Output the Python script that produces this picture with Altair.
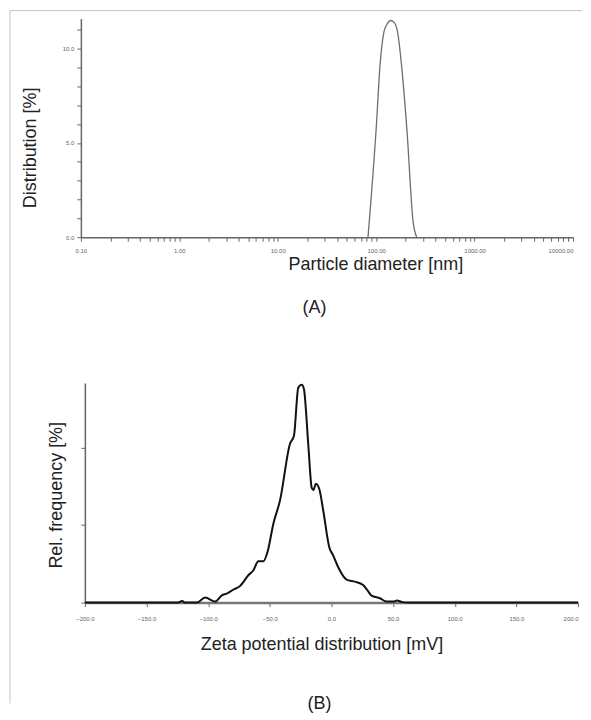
import altair as alt
import pandas as pd

# (A) particle size distribution
size_nm = [82.6, 101, 109, 120, 129, 141, 152, 165, 182, 206, 237, 258]
size_pct = [0, 6.1, 9.0, 10.9, 11.3, 11.5, 11.4, 10.9, 9.0, 5.6, 0.85, 0]

# (B) zeta potential distribution
zeta_mv = [-200, -125, -121, -119, -109, -102.4, -94.3, -88.9, -84.9, -79.5,
           -74.1, -67.4, -63.3, -59.3, -55.2, -51.7, -47.1, -41.7, -33.6, -30.4,
           -26.9, -24.1, -22.3, -18.8, -16.0, -14.7, -12.6, -9.8, -6.6, -1.7,
           1.5, 5.5, 12.3, 19.0, 25.7, 29.0, 32.5, 39.3, 44.7, 50.0,
           53.3, 56.8, 60.9, 200]
zeta_freq = [0, 0, 0.02, 0, 0, 0.064, 0.013, 0.094, 0.116, 0.167,
             0.215, 0.352, 0.416, 0.532, 0.532, 0.661, 1.017, 1.317, 2.047, 2.15,
             2.77, 2.806, 2.75, 2.04, 1.48, 1.45, 1.53, 1.46, 1.18, 0.71,
             0.605, 0.455, 0.296, 0.27, 0.227, 0.163, 0.09, 0.056, 0.013, 0.013,
             0.026, 0.009, 0, 0]

x_ticks_a = [m * 10 ** e for e in range(-1, 4) for m in range(1, 10)] + [10000]
y_ticks_a = list(range(0, 12))
x_ticks_b = list(range(-200, 201, 50))
y_ticks_b = [0, 1, 2]
panel_labels = ["(A)", "(B)"]

FONT = "Liberation Sans"
TFS = 18

df_a = pd.DataFrame({"d": size_nm, "p": size_pct})
df_b = pd.DataFrame({"z": zeta_mv, "f": zeta_freq})
one = pd.DataFrame({"k": [0]})

line_a = alt.Chart(df_a).mark_line(color="#6e6e6e", strokeWidth=1.3, interpolate="monotone").encode(
    x=alt.X("d:Q",
            scale=alt.Scale(type="log", domain=[0.1, 10000], nice=False),
            axis=alt.Axis(values=x_ticks_a,
                          labelExpr="abs(log(datum.value)/LN10 - round(log(datum.value)/LN10)) < 1e-6 ? format(datum.value, '.2f') : ''",
                          labelAlign={"condition": {"test": "datum.value >= 9999", "value": "right"}, "value": "center"},
                          labelPadding=6,
                          title="Particle diameter [nm]", titleX=295, titleY=18,
                          domainWidth=1.5)),
    y=alt.Y("p:Q",
            scale=alt.Scale(domain=[0, 11.6], nice=False),
            axis=alt.Axis(values=y_ticks_a,
                          labelExpr="datum.value % 5 === 0 ? format(datum.value, '.1f') : ''",
                          title="Distribution [%]", titleX=-41, titleY=129,
                          domainWidth=1.5)),
)

left_rule = alt.Chart(one).mark_rule(color="#c4c4c4", strokeWidth=1).encode(
    x=alt.value(-71), y=alt.value(-8), y2=alt.value(686))
top_rule = alt.Chart(one).mark_rule(color="#c4c4c4", strokeWidth=1).encode(
    x=alt.value(-71), x2=alt.value(502), y=alt.value(-8))
label_a = alt.Chart(one).mark_text(fontSize=TFS, font=FONT, color="#222",
                                   align="center", baseline="middle").encode(
    x=alt.value(234), y=alt.value(290), text=alt.value(panel_labels[0]))

chart_a = alt.layer(left_rule, top_rule, line_a, label_a).properties(width=493, height=219)

line_b = alt.Chart(df_b).mark_line(color="#111", strokeWidth=2, interpolate="monotone").encode(
    x=alt.X("z:Q",
            scale=alt.Scale(domain=[-200, 200], range=[4, 498], nice=False),
            axis=alt.Axis(values=x_ticks_b, format=".1f",
                          labelAlign={"condition": {"test": "datum.value >= 200", "value": "right"}, "value": "center"},
                          labelPadding=9,
                          title="Zeta potential distribution [mV]", titleX=241, titleY=33,
                          domainWidth=2.5, domainColor="#777")),
    y=alt.Y("f:Q",
            scale=alt.Scale(domain=[0, 2.83], nice=False),
            axis=alt.Axis(values=y_ticks_b, labels=False, offset=-4,
                          title="Rel. frequency [%]", titleX=-19, titleY=112,
                          domainWidth=1.5)),
)
label_b = alt.Chart(one).mark_text(fontSize=TFS, font=FONT, color="#222",
                                   align="center", baseline="middle").encode(
    x=alt.value(239), y=alt.value(322), text=alt.value(panel_labels[1]))

chart_b = alt.layer(line_b, label_b).properties(width=498, height=220)

chart = alt.vconcat(chart_a, chart_b, spacing=146, bounds="flush").properties(
    padding={"left": 1, "top": 1, "right": 0, "bottom": 0}
).configure_view(stroke=None).configure_axis(
    domainColor="#666", tickColor="#666", tickSize=4, tickWidth=1,
    labelFontSize=6, labelColor="#666", labelFont=FONT, labelPadding=3,
    titleFont=FONT, titleFontSize=TFS, titleFontWeight="normal", titleColor="#222",
    grid=False,
)

chart.save("out.html", embed_options={"renderer": "svg", "actions": False})
